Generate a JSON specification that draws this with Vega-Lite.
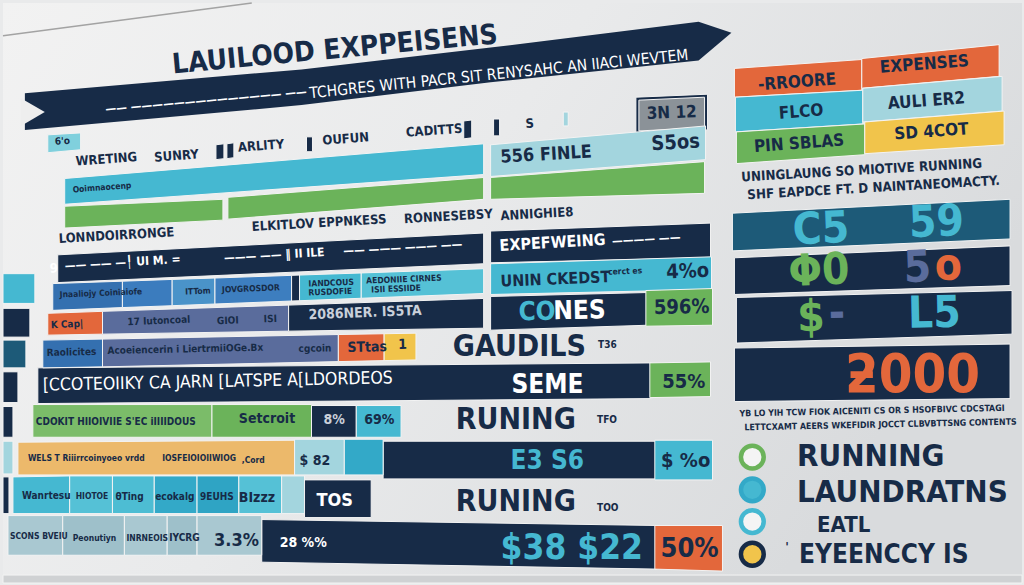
{
 "$schema": "https://vega.github.io/schema/vega-lite/v6.json",
 "width": 1024, "height": 585,
 "autosize": {"type": "fit", "contains": "padding"},
 "padding": 0,
 "background": "#e9eaeb",
 "config": {"view": {"stroke": null}},
 "datasets": {
  "banner": [
   {"x": 22, "y": 91, "y2": 128}, {"x": 300, "y": 67, "y2": 103}, {"x": 490, "y": 45, "y2": 80}, {"x": 699, "y": 19, "y2": 58}, {"x": 732, "y": 30, "y2": 30}
  ],
  "notch": [{"x": 18, "y": 96, "y2": 124}, {"x": 42, "y": 110, "y2": 110}],
  "paper": [{"x": 0, "y": 33}, {"x": 250, "y": 0}],
  "quads": [
   {"q":"t1","x":735,"y":66,"y2":95,"c":"orange"},{"q":"t1","x":863,"y":57,"y2":88,"c":"orange"},
   {"q":"t2","x":863,"y":56,"y2":86,"c":"orange"},{"q":"t2","x":1001,"y":42,"y2":74,"c":"orange"},
   {"q":"t3","x":736,"y":95,"y2":130,"c":"cyan"},{"q":"t3","x":864,"y":88,"y2":122,"c":"cyan"},
   {"q":"t4","x":864,"y":86,"y2":120,"c":"ltcyan"},{"q":"t4","x":1004,"y":74,"y2":109,"c":"ltcyan"},
   {"q":"t5","x":737,"y":130,"y2":162,"c":"green"},{"q":"t5","x":866,"y":122,"y2":153,"c":"green"},
   {"q":"t6","x":866,"y":120,"y2":152,"c":"yellow"},{"q":"t6","x":1006,"y":109,"y2":143,"c":"yellow"},
   {"q":"r1","x":733,"y":212,"y2":250,"c":"teal"},{"q":"r1","x":1012,"y":198,"y2":238,"c":"teal"},
   {"q":"r2","x":735,"y":257,"y2":294,"c":"navy"},{"q":"r2","x":1012,"y":245,"y2":285,"c":"navy"},
   {"q":"r3","x":737,"y":297,"y2":343,"c":"navy"},{"q":"r3","x":1014,"y":290,"y2":334,"c":"navy"},
   {"q":"r4","x":735,"y":348,"y2":402,"c":"navy"},{"q":"r4","x":1012,"y":344,"y2":399,"c":"navy"},
   {"q":"m0","x":636,"y":95,"y2":131,"c":"navy"},{"q":"m0","x":708,"y":92,"y2":128,"c":"navy"},
   {"q":"m1","x":639,"y":98,"y2":129,"c":"grey"},{"q":"m1","x":705,"y":95,"y2":126,"c":"grey"},
   {"q":"m2","x":490,"y":143,"y2":175,"c":"ltcyan"},{"q":"m2","x":706,"y":124,"y2":158,"c":"ltcyan"},
   {"q":"m3","x":490,"y":176,"y2":198,"c":"green"},{"q":"m3","x":705,"y":160,"y2":192,"c":"green"},
   {"q":"m4","x":490,"y":230,"y2":262,"c":"navy"},{"q":"m4","x":711,"y":222,"y2":257,"c":"navy"},
   {"q":"m5","x":490,"y":263,"y2":294,"c":"cyan"},{"q":"m5","x":712,"y":256,"y2":289,"c":"cyan"},
   {"q":"m6","x":490,"y":296,"y2":330,"c":"navy"},{"q":"m6","x":648,"y":292,"y2":325,"c":"navy"},
   {"q":"m7","x":646,"y":290,"y2":326,"c":"green"},{"q":"m7","x":713,"y":288,"y2":325,"c":"green"},
   {"q":"m8","x":35,"y":368,"y2":404,"c":"navy"},{"q":"m8","x":652,"y":363,"y2":399,"c":"navy"},
   {"q":"m9","x":650,"y":363,"y2":398,"c":"green"},{"q":"m9","x":711,"y":362,"y2":397,"c":"green"},
   {"q":"m10","x":382,"y":442,"y2":480,"c":"navy"},{"q":"m10","x":657,"y":442,"y2":480,"c":"navy"},
   {"q":"m11","x":655,"y":441,"y2":481,"c":"cyan"},{"q":"m11","x":713,"y":441,"y2":481,"c":"cyan"},
   {"q":"m12","x":260,"y":521,"y2":564,"c":"navy"},{"q":"m12","x":657,"y":527,"y2":571,"c":"navy"},
   {"q":"m13","x":655,"y":527,"y2":571,"c":"orange"},{"q":"m13","x":723,"y":527,"y2":573,"c":"orange"},
   {"q":"l1","x":62,"y":177,"y2":203,"c":"cyan"},{"q":"l1","x":483,"y":142,"y2":173,"c":"cyan"},
   {"q":"l2a","x":62,"y":205,"y2":227,"c":"green"},{"q":"l2a","x":221,"y":198,"y2":219,"c":"green"},
   {"q":"l2b","x":226,"y":196,"y2":218,"c":"green"},{"q":"l2b","x":483,"y":176,"y2":198,"c":"green"},
   {"q":"l3","x":55,"y":254,"y2":282,"c":"navy"},{"q":"l3","x":483,"y":232,"y2":263,"c":"navy"},
   {"q":"b1","x":214,"y":143,"y2":158,"c":"navy"},{"q":"b1","x":222,"y":142,"y2":157,"c":"navy"},
   {"q":"b2","x":225,"y":142,"y2":157,"c":"navy"},{"q":"b2","x":232,"y":141,"y2":156,"c":"navy"},
   {"q":"b3","x":305,"y":135,"y2":150,"c":"navy"},{"q":"b3","x":311,"y":135,"y2":150,"c":"navy"},
   {"q":"b4","x":463,"y":119,"y2":137,"c":"navy"},{"q":"b4","x":471,"y":118,"y2":136,"c":"navy"},
   {"q":"b5","x":493,"y":117,"y2":134,"c":"navy"},{"q":"b5","x":499,"y":117,"y2":134,"c":"navy"},
   {"q":"b6","x":563,"y":110,"y2":124,"c":"ltcyan"},{"q":"b6","x":568,"y":110,"y2":124,"c":"ltcyan"},
   {"q":"ic","x":45,"y":133,"y2":151,"c":"icon"},{"q":"ic","x":78,"y":131,"y2":148,"c":"icon"},
   {"q":"l4a","x":50,"y":283,"y2":310,"c":"steel"},{"q":"l4a","x":120,"y":280.6,"y2":307.2,"c":"steel"},
   {"q":"l4b","x":120,"y":280.6,"y2":307.2,"c":"blue2"},{"q":"l4b","x":170,"y":278.8,"y2":305.3,"c":"blue2"},
   {"q":"l4c","x":170,"y":278.8,"y2":305.3,"c":"blue3"},{"q":"l4c","x":213,"y":277.4,"y2":303.6,"c":"blue3"},
   {"q":"l4d","x":213,"y":277.4,"y2":303.6,"c":"steel2"},{"q":"l4d","x":290,"y":274.7,"y2":300.6,"c":"steel2"},
   {"q":"l4e","x":290,"y":274.7,"y2":300.6,"c":"navy"},{"q":"l4e","x":298,"y":274.4,"y2":300.3,"c":"navy"},
   {"q":"l4f","x":298,"y":274.4,"y2":300.3,"c":"cyan"},{"q":"l4f","x":360,"y":272.3,"y2":297.8,"c":"cyan"},
   {"q":"l4g","x":360,"y":272.3,"y2":297.8,"c":"cyan2"},{"q":"l4g","x":483,"y":268,"y2":293,"c":"cyan2"},
   {"q":"l5a","x":45,"y":313,"y2":335,"c":"orange"},{"q":"l5a","x":100,"y":311,"y2":334,"c":"orange"},
   {"q":"l5b","x":100,"y":311,"y2":334,"c":"greyblue"},{"q":"l5b","x":287,"y":304.7,"y2":331,"c":"greyblue"},
   {"q":"l5c","x":287,"y":304.7,"y2":331,"c":"navy"},{"q":"l5c","x":483,"y":298,"y2":328,"c":"navy"},
   {"q":"l6a","x":40,"y":340,"y2":368,"c":"steel"},{"q":"l6a","x":100,"y":339,"y2":367,"c":"steel"},
   {"q":"l6b","x":100,"y":339,"y2":367,"c":"greyblue"},{"q":"l6b","x":337,"y":334.4,"y2":361.7,"c":"greyblue"},
   {"q":"l6c","x":337,"y":334.4,"y2":361.7,"c":"orange"},{"q":"l6c","x":383,"y":333.6,"y2":360.7,"c":"orange"},
   {"q":"l6d","x":383,"y":333.6,"y2":360.7,"c":"yellow"},{"q":"l6d","x":415,"y":333,"y2":360,"c":"yellow"},
   {"q":"l8a","x":30,"y":405,"y2":438,"c":"green2"},{"q":"l8a","x":210,"y":405,"y2":438,"c":"green2"},
   {"q":"l8b","x":210,"y":405,"y2":438,"c":"green"},{"q":"l8b","x":310,"y":405,"y2":438,"c":"green"},
   {"q":"l8c","x":310,"y":406,"y2":438,"c":"navy"},{"q":"l8c","x":355,"y":406,"y2":438,"c":"navy"},
   {"q":"l8d","x":355,"y":406,"y2":438,"c":"cyan"},{"q":"l8d","x":400,"y":406,"y2":438,"c":"cyan"},
   {"q":"l9a","x":15,"y":443,"y2":476,"c":"tan"},{"q":"l9a","x":293,"y":441,"y2":476,"c":"tan"},
   {"q":"l9b","x":293,"y":440,"y2":476,"c":"ltcyan"},{"q":"l9b","x":343,"y":440,"y2":476,"c":"ltcyan"},
   {"q":"l9c","x":343,"y":440,"y2":476,"c":"cyan3"},{"q":"l9c","x":382,"y":440,"y2":476,"c":"cyan3"},
   {"q":"l10a","x":10,"y":478,"y2":515,"c":"cyan"},{"q":"l10a","x":67,"y":477,"y2":515,"c":"cyan"},
   {"q":"l10b","x":67,"y":477,"y2":515,"c":"cyan2"},{"q":"l10b","x":110,"y":477,"y2":515,"c":"cyan2"},
   {"q":"l10c","x":110,"y":477,"y2":515,"c":"cyan4"},{"q":"l10c","x":152,"y":477,"y2":515,"c":"cyan4"},
   {"q":"l10d","x":152,"y":477,"y2":515,"c":"cyan3"},{"q":"l10d","x":195,"y":477,"y2":515,"c":"cyan3"},
   {"q":"l10e","x":195,"y":477,"y2":515,"c":"cyan5"},{"q":"l10e","x":237,"y":477,"y2":515,"c":"cyan5"},
   {"q":"l10f","x":237,"y":477,"y2":515,"c":"cyan2"},{"q":"l10f","x":280,"y":477,"y2":515,"c":"cyan2"},
   {"q":"l10g","x":280,"y":477,"y2":515,"c":"ltcyan"},{"q":"l10g","x":303,"y":477,"y2":515,"c":"ltcyan"},
   {"q":"l10h","x":303,"y":481,"y2":519,"c":"navy"},{"q":"l10h","x":370,"y":481,"y2":519,"c":"navy"},
   {"q":"l11a","x":5,"y":517,"y2":557,"c":"ltteal"},{"q":"l11a","x":60,"y":517,"y2":557,"c":"ltteal"},
   {"q":"l11b","x":60,"y":517,"y2":557,"c":"ltteal2"},{"q":"l11b","x":122,"y":517,"y2":557,"c":"ltteal2"},
   {"q":"l11c","x":122,"y":517,"y2":557,"c":"ltteal"},{"q":"l11c","x":165,"y":517,"y2":557,"c":"ltteal"},
   {"q":"l11d","x":165,"y":517,"y2":557,"c":"ltteal2"},{"q":"l11d","x":195,"y":517,"y2":557,"c":"ltteal2"},
   {"q":"l11e","x":195,"y":517,"y2":557,"c":"ltteal"},{"q":"l11e","x":260,"y":517,"y2":557,"c":"ltteal"},
   {"q":"g1","x":0,"y":273,"y2":303,"c":"cyan"},{"q":"g1","x":32,"y":273,"y2":303,"c":"cyan"},
   {"q":"g2","x":0,"y":308,"y2":337,"c":"navy"},{"q":"g2","x":27,"y":308,"y2":337,"c":"navy"},
   {"q":"g3","x":0,"y":340,"y2":368,"c":"teal"},{"q":"g3","x":23,"y":340,"y2":368,"c":"teal"},
   {"q":"g4","x":0,"y":372,"y2":403,"c":"navy"},{"q":"g4","x":15,"y":372,"y2":403,"c":"navy"},
   {"q":"g5","x":0,"y":407,"y2":438,"c":"navy"},{"q":"g5","x":10,"y":407,"y2":438,"c":"navy"},
   {"q":"g6","x":0,"y":442,"y2":475,"c":"ltcyan"},{"q":"g6","x":10,"y":442,"y2":475,"c":"ltcyan"},
   {"q":"g7","x":0,"y":478,"y2":515,"c":"navy"},{"q":"g7","x":6,"y":478,"y2":515,"c":"navy"},
   {"q":"fl","x":0,"y":577,"y2":585,"c":"floor"},{"q":"fl","x":1024,"y":577,"y2":585,"c":"floor"}
  ],
  "dots": [
   {"x": 753, "y": 458, "fi": "white", "st": "green"},
   {"x": 753, "y": 491, "fi": "cyan", "st": "cyan3"},
   {"x": 753, "y": 523, "fi": "white", "st": "cyan"},
   {"x": 753, "y": 556, "fi": "yellow", "st": "navy"}
  ],
  "texts": [
   {"x":170,"y":63,"t":"LAUILOOD EXPPEISENS","r":"title","c":"navy","k":"t55"},
   {"x":308,"y":91,"t":"TCHGRES WITH PACR SIT RENYSAHC AN IIACI WEVTEM","r":"sub","c":"white","k":"t6"},
   {"x":103,"y":107,"t":"——   ——————————————   ——","r":"dash","c":"white","k":"t5"},
   {"x":798,"y":80,"t":"-RROORE","r":"tbl","c":"navy","k":"t4","a":"c"},
   {"x":926,"y":62,"t":"EXPENSES","r":"tbl","c":"navy","k":"t4","a":"c"},
   {"x":802,"y":110,"t":"FLCO","r":"tbl","c":"navy","k":"t4","a":"c"},
   {"x":928,"y":99,"t":"AULI ER2","r":"tbl","c":"navy","k":"t4","a":"c"},
   {"x":800,"y":142,"t":"PIN SBLAS","r":"tbl","c":"navy","k":"t4","a":"c"},
   {"x":933,"y":130,"t":"SD 4COT","r":"tbl","c":"navy","k":"t4","a":"c"},
   {"x":742,"y":176,"t":"UNINGLAUNG SO MIOTIVE RUNNING","r":"expl","c":"navy","k":"t3"},
   {"x":748,"y":194,"t":"SHF EAPDCE FT. D NAINTANEOMACTY.","r":"expl","c":"navy","k":"t3"},
   {"x":822,"y":229,"t":"C5","r":"num","c":"cyan","k":"t2","a":"c"},
   {"x":938,"y":222,"t":"59","r":"num","c":"cyan","k":"t2","a":"c"},
   {"x":820,"y":271,"t":"Φ0","r":"num","c":"green","k":"t2","a":"c"},
   {"x":919,"y":268,"t":"5","r":"num","c":"greyblue","k":"t2","a":"c"},
   {"x":950,"y":266,"t":"o","r":"num","c":"orange","k":"t2","a":"c"},
   {"x":812,"y":318,"t":"$","r":"num","c":"green","k":"t1","a":"c"},
   {"x":838,"y":314,"t":"-","r":"num","c":"greyblue","k":"t1","a":"c"},
   {"x":936,"y":314,"t":"L5","r":"num","c":"cyan","k":"t1","a":"c"},
   {"x":914,"y":376,"t":"ƻ000","r":"huge","c":"orange","k":"t0","a":"c"},
   {"x":740,"y":414,"t":"YB LO YIH TCW FIOK AICENITI CS OR S HSOFBIVC CDCSTAGI","r":"note","c":"navy","k":"t1"},
   {"x":745,"y":428,"t":"LETTCXAMT AEERS WKEFIDIR JOCCT CLBVBTTSNG CONTENTS","r":"note","c":"navy","k":"t1"},
   {"x":798,"y":458,"t":"RUNNING","r":"leg","c":"navy","k":"t0"},
   {"x":798,"y":494,"t":"LAUNDRATNS","r":"leg","c":"navy","k":"t0"},
   {"x":818,"y":527,"t":"EATL","r":"leg2","c":"navy","k":"t0"},
   {"x":786,"y":549,"t":"'","r":"lab","c":"navy","k":"t0"},
   {"x":800,"y":557,"t":"EYEENCCY IS","r":"leg3","c":"navy","k":"t0"},
   {"x":672,"y":111,"t":"3N 12","r":"tbl","c":"navy","k":"t2","a":"c"},
   {"x":525,"y":122,"t":"S","r":"lab","c":"navy","k":"t3"},
   {"x":500,"y":156,"t":"556 FINLE","r":"lab3","c":"navy","k":"t3"},
   {"x":676,"y":141,"t":"S5os","r":"cell","c":"navy","k":"t3","a":"c"},
   {"x":500,"y":215,"t":"ANNIGHIE8","r":"lab","c":"navy","k":"t3"},
   {"x":499,"y":245,"t":"EXPEFWEING","r":"lab2","c":"white","k":"t3"},
   {"x":612,"y":240,"t":"————  ——","r":"dash","c":"white","k":"t3"},
   {"x":500,"y":281,"t":"UNIN CKEDST","r":"lab2","c":"navy","k":"t2"},
   {"x":608,"y":271,"t":"cerct es","r":"tiny","c":"navy","k":"t2"},
   {"x":688,"y":271,"t":"4%o","r":"cell","c":"navy","k":"t2","a":"c"},
   {"x":518,"y":312,"t":"CO","r":"head","c":"cyan","k":"t1"},
   {"x":553,"y":311,"t":"NES","r":"head","c":"white","k":"t1"},
   {"x":682,"y":307,"t":"596%","r":"cell","c":"navy","k":"t1","a":"c"},
   {"x":452,"y":347,"t":"GAUDILS","r":"big","c":"navy","k":"t0"},
   {"x":598,"y":345,"t":"T36","r":"small","c":"navy","k":"t0"},
   {"x":511,"y":385,"t":"SEME","r":"head","c":"white","k":"t0"},
   {"x":684,"y":382,"t":"55%","r":"cell","c":"navy","k":"t0","a":"c"},
   {"x":455,"y":421,"t":"RUNING","r":"big","c":"navy","k":"t0"},
   {"x":597,"y":421,"t":"TFO","r":"small","c":"navy","k":"t0"},
   {"x":510,"y":462,"t":"E3 S6","r":"head","c":"cyan","k":"t0"},
   {"x":686,"y":462,"t":"$ %o","r":"cell","c":"navy","k":"t0","a":"c"},
   {"x":455,"y":503,"t":"RUNING","r":"big","c":"navy","k":"t0"},
   {"x":597,"y":509,"t":"TOO","r":"small","c":"navy","k":"t0"},
   {"x":500,"y":550,"t":"$38 $22","r":"money","c":"cyan","k":"t0"},
   {"x":690,"y":551,"t":"50%","r":"bigcell","c":"navy","k":"t0","a":"c"},
   {"x":278,"y":545,"t":"28 %%","r":"mid","c":"white","k":"t0"},
   {"x":52,"y":140,"t":"6'o","r":"small","c":"navy","k":"t3"},
   {"x":73,"y":160,"t":"WRETING","r":"lab","c":"navy","k":"t4"},
   {"x":152,"y":156,"t":"SUNRY","r":"lab","c":"navy","k":"t4"},
   {"x":236,"y":146,"t":"ARLITY","r":"lab","c":"navy","k":"t4"},
   {"x":321,"y":139,"t":"OUFUN","r":"lab","c":"navy","k":"t4"},
   {"x":405,"y":131,"t":"CADITTS","r":"lab","c":"navy","k":"t4"},
   {"x":70,"y":188,"t":"Ooimnaocenp","r":"tiny","c":"navy","k":"t4"},
   {"x":250,"y":226,"t":"ELKITLOV EPPNKESS","r":"lab","c":"navy","k":"t3"},
   {"x":403,"y":218,"t":"RONNESEBSY","r":"lab","c":"navy","k":"t3"},
   {"x":56,"y":238,"t":"LONNDOIRRONGE","r":"lab","c":"navy","k":"t3"},
   {"x":47,"y":268,"t":"9","r":"lab","c":"white","k":"t3"},
   {"x":62,"y":265,"t":"—— ——  —╿ UI M. =","r":"dash","c":"white","k":"t3"},
   {"x":222,"y":257,"t":"——— —— ‖ II ILE","r":"dash","c":"white","k":"t3"},
   {"x":342,"y":250,"t":"—— ———  ——— ——","r":"dash","c":"white","k":"t3"},
   {"x":57,"y":294,"t":"Jnaaliojy Coiniaiofe","r":"tiny","c":"navy","k":"t2"},
   {"x":183,"y":291,"t":"ITTom","r":"tiny","c":"navy","k":"t2"},
   {"x":220,"y":289,"t":"JOVGROSDOR","r":"tiny","c":"navy","k":"t2"},
   {"x":307,"y":283,"t":"IANDCOUS","r":"tiny","c":"navy","k":"t2"},
   {"x":307,"y":292,"t":"RUSDOFIE","r":"tiny","c":"navy","k":"t2"},
   {"x":365,"y":280,"t":"AEDONIIE CIRNES","r":"tiny","c":"navy","k":"t2"},
   {"x":370,"y":289,"t":"ISII ESSIIDE","r":"tiny","c":"navy","k":"t2"},
   {"x":48,"y":325,"t":"K Cap|","r":"small","c":"navy","k":"t2"},
   {"x":125,"y":322,"t":"17 Iutoncoal","r":"small","c":"navy","k":"t2"},
   {"x":215,"y":321,"t":"GIOI","r":"small","c":"navy","k":"t2"},
   {"x":262,"y":319,"t":"ISI","r":"small","c":"navy","k":"t2"},
   {"x":307,"y":315,"t":"2086NER. IS5TA","r":"mid","c":"ltgrey","k":"t2"},
   {"x":44,"y":353,"t":"Raolicites","r":"small","c":"navy","k":"t1"},
   {"x":105,"y":351,"t":"Acoeiencerin i LiertrmiiOGe.Bx","r":"small","c":"navy","k":"t1"},
   {"x":297,"y":349,"t":"cgcoin","r":"small","c":"navy","k":"t1"},
   {"x":346,"y":348,"t":"STtas","r":"mid","c":"navy","k":"t1"},
   {"x":397,"y":345,"t":"1","r":"mid","c":"navy","k":"t1"},
   {"x":40,"y":386,"t":"[CCOTEOIIKY CA JARN [LATSPE A[LDORDEOS","r":"row","c":"white","k":"t1"},
   {"x":33,"y":423,"t":"CDOKIT HIIOIVIIE S'EC iIIIIDOUS","r":"small","c":"navy","k":"t0"},
   {"x":237,"y":420,"t":"Setcroit","r":"mid","c":"navy","k":"t0"},
   {"x":322,"y":421,"t":"8%","r":"mid","c":"ltgrey","k":"t0"},
   {"x":363,"y":421,"t":"69%","r":"mid","c":"navy","k":"t0"},
   {"x":25,"y":459,"t":"WELS T Riiirrcoinyoeo vrdd","r":"tiny","c":"navy","k":"t0"},
   {"x":160,"y":459,"t":"IOSFEIOIOIIWIOG","r":"tiny","c":"navy","k":"t0"},
   {"x":240,"y":461,"t":",Cord","r":"tiny","c":"navy","k":"t0"},
   {"x":298,"y":462,"t":"$ 82","r":"mid","c":"navy","k":"t0"},
   {"x":19,"y":497,"t":"Wanrtesu","r":"small","c":"navy","k":"t0"},
   {"x":73,"y":497,"t":"HIOTOE","r":"tiny","c":"navy","k":"t0"},
   {"x":113,"y":498,"t":"θTing","r":"small","c":"navy","k":"t0"},
   {"x":153,"y":498,"t":"ecokalg","r":"small","c":"navy","k":"t0"},
   {"x":198,"y":498,"t":"9EUHS","r":"small","c":"navy","k":"t0"},
   {"x":237,"y":499,"t":"BIzzz","r":"mid","c":"navy","k":"t0"},
   {"x":315,"y":502,"t":"TOS","r":"lab3","c":"white","k":"t0"},
   {"x":7,"y":538,"t":"SCONS BVEIU","r":"tiny","c":"navy","k":"t0"},
   {"x":70,"y":540,"t":"Peonutiyn","r":"tiny","c":"navy","k":"t0"},
   {"x":124,"y":540,"t":"INRNEOIS","r":"tiny","c":"navy","k":"t0"},
   {"x":167,"y":540,"t":"IYCRG","r":"small","c":"navy","k":"t0"},
   {"x":212,"y":543,"t":"3.3%","r":"lab3","c":"navy","k":"t0"}
  ]
 },
 "layer": [
  {
   "data": {"values": [{"x": 0, "x2": 1024, "y": 0, "y2": 585}]},
   "mark": {"type": "rect", "color": {"gradient": "linear", "x1": 0, "y1": 0, "x2": 1, "y2": 0.4, "stops": [{"offset": 0, "color": "#f2f2f2"}, {"offset": 0.5, "color": "#e9eaeb"}, {"offset": 1, "color": "#d9dbdd"}]}},
   "encoding": {
    "x": {"field": "x", "type": "quantitative", "scale": {"domain": [0, 1024], "nice": false, "zero": false}, "axis": null},
    "x2": {"field": "x2"},
    "y": {"field": "y", "type": "quantitative", "scale": {"domain": [0, 585], "nice": false, "zero": false, "reverse": true}, "axis": null},
    "y2": {"field": "y2"}
   }
  },
  {
   "data": {"name": "paper"},
   "mark": {"type": "line", "color": "#a3a3a3", "strokeWidth": 1.5},
   "encoding": {
    "x": {"field": "x", "type": "quantitative", "axis": null},
    "y": {"field": "y", "type": "quantitative", "axis": null}
   }
  },
  {
   "data": {"name": "banner"},
   "mark": {"type": "area", "color": "#172b47", "interpolate": "linear"},
   "encoding": {
    "x": {"field": "x", "type": "quantitative", "axis": null},
    "y": {"field": "y", "type": "quantitative", "axis": null},
    "y2": {"field": "y2"}
   }
  },
  {
   "data": {"name": "notch"},
   "mark": {"type": "area", "color": "#eeeeee", "interpolate": "linear"},
   "encoding": {
    "x": {"field": "x", "type": "quantitative", "axis": null},
    "y": {"field": "y", "type": "quantitative", "axis": null},
    "y2": {"field": "y2"}
   }
  },
  {
   "data": {"name": "quads"},
   "mark": {"type": "area", "stroke": "#f3f3f3", "strokeWidth": 1, "interpolate": "linear", "opacity": 1},
   "encoding": {
    "x": {"field": "x", "type": "quantitative", "axis": null},
    "y": {"field": "y", "type": "quantitative", "axis": null},
    "y2": {"field": "y2"},
    "detail": {"field": "q", "type": "nominal"},
    "color": {"field": "c", "type": "nominal", "legend": null,
     "scale": {"domain": ["navy","teal","cyan","cyan2","cyan3","cyan4","cyan5","ltcyan","ltteal","ltteal2","green","green2","orange","yellow","tan","steel","steel2","blue2","blue3","greyblue","grey","icon","floor","white","ltgrey","bg"],
      "range": ["#172b47","#1d5a78","#45b8d1","#55c1d6","#33a9c8","#4dbdd3","#2fa4c4","#a3d5de","#a9c8d1","#9ec0ca","#6bb35a","#7bbc69","#e3673b","#f1c44b","#ecb96b","#3470b0","#3d7ebf","#3b7cbe","#4a93c9","#5a6c9c","#8b9298","#80d0dd","#cfd1d3","#ffffff","#c9d0da","#e9eaeb"]}}
   }
  },
  {
   "data": {"name": "dots"},
   "mark": {"type": "point", "size": 520, "strokeWidth": 4.5, "opacity": 1, "fillOpacity": 1, "shape": "circle"},
   "encoding": {
    "x": {"field": "x", "type": "quantitative", "axis": null},
    "y": {"field": "y", "type": "quantitative", "axis": null},
    "fill": {"field": "fi", "type": "nominal", "legend": null,
     "scale": {"domain": ["navy","cyan","cyan3","green","yellow","white"], "range": ["#172b47","#45b8d1","#33a9c8","#6bb35a","#f1c44b","#f4f4f4"]}},
    "stroke": {"field": "st", "type": "nominal", "legend": null,
     "scale": {"domain": ["navy","cyan","cyan3","green","yellow","white"], "range": ["#172b47","#45b8d1","#33a9c8","#6bb35a","#f1c44b","#f4f4f4"]}}
   }
  },
  {
   "data": {"name": "texts"},
   "transform": [{"filter": "datum.a !== 'c' && datum.r !== 'sub' && datum.r !== 'row'"}],
   "mark": {"type": "text", "font": "DejaVu Sans Condensed, Liberation Sans Narrow, Roboto, sans-serif", "fontWeight": "bold", "align": "left", "baseline": "middle"},
   "encoding": {
    "x": {"field": "x", "type": "quantitative", "axis": null},
    "y": {"field": "y", "type": "quantitative", "axis": null},
    "text": {"field": "t"},
    "color": {"field": "c", "type": "nominal", "legend": null,
     "scale": {"domain": ["navy","teal","cyan","cyan2","cyan3","cyan4","cyan5","ltcyan","ltteal","ltteal2","green","green2","orange","yellow","tan","steel","steel2","blue2","blue3","greyblue","grey","icon","floor","white","ltgrey","bg"],
      "range": ["#172b47","#1d5a78","#45b8d1","#55c1d6","#33a9c8","#4dbdd3","#2fa4c4","#a3d5de","#a9c8d1","#9ec0ca","#6bb35a","#7bbc69","#e3673b","#f1c44b","#ecb96b","#3470b0","#3d7ebf","#3b7cbe","#4a93c9","#5a6c9c","#8b9298","#80d0dd","#cfd1d3","#ffffff","#c9d0da","#e9eaeb"]}},
    "size": {"field": "r", "type": "nominal", "legend": null,
     "scale": {"type": "ordinal", "domain": ["title","sub","tbl","lab","lab2","lab3","expl","tiny","small","mid","row","cell","bigcell","head","big","num","huge","leg","leg2","leg3","money","note","dash"],
      "range": [28,15.5,17,13,16,18,13.3,8.5,10,14,17.5,20,27,26,30,44,54,31,22,26,35,8.8,12]}},
    "angle": {"field": "k", "type": "nominal", "legend": null,
     "scale": {"type": "ordinal", "domain": ["t6","t55","t5","t4","t3","t2","t1","t0"], "range": [-5.8,-5.3,-5,-4.2,-3.3,-2.3,-1.2,0]}}
   }
  },
  {
   "data": {"name": "texts"},
   "transform": [{"filter": "datum.a === 'c'"}],
   "mark": {"type": "text", "font": "DejaVu Sans Condensed, Liberation Sans Narrow, Roboto, sans-serif", "fontWeight": "bold", "align": "center", "baseline": "middle"},
   "encoding": {
    "x": {"field": "x", "type": "quantitative", "axis": null},
    "y": {"field": "y", "type": "quantitative", "axis": null},
    "text": {"field": "t"},
    "color": {"field": "c", "type": "nominal", "legend": null,
     "scale": {"domain": ["navy","teal","cyan","cyan2","cyan3","cyan4","cyan5","ltcyan","ltteal","ltteal2","green","green2","orange","yellow","tan","steel","steel2","blue2","blue3","greyblue","grey","icon","floor","white","ltgrey","bg"],
      "range": ["#172b47","#1d5a78","#45b8d1","#55c1d6","#33a9c8","#4dbdd3","#2fa4c4","#a3d5de","#a9c8d1","#9ec0ca","#6bb35a","#7bbc69","#e3673b","#f1c44b","#ecb96b","#3470b0","#3d7ebf","#3b7cbe","#4a93c9","#5a6c9c","#8b9298","#80d0dd","#cfd1d3","#ffffff","#c9d0da","#e9eaeb"]}},
    "size": {"field": "r", "type": "nominal", "legend": null,
     "scale": {"type": "ordinal", "domain": ["title","sub","tbl","lab","lab2","lab3","expl","tiny","small","mid","row","cell","bigcell","head","big","num","huge","leg","leg2","leg3","money","note","dash"],
      "range": [28,15.5,17,13,16,18,13.3,8.5,10,14,17.5,20,27,26,30,44,54,31,22,26,35,8.8,12]}},
    "angle": {"field": "k", "type": "nominal", "legend": null,
     "scale": {"type": "ordinal", "domain": ["t6","t55","t5","t4","t3","t2","t1","t0"], "range": [-5.8,-5.3,-5,-4.2,-3.3,-2.3,-1.2,0]}}
   }
  },
  {
   "data": {"name": "texts"},
   "transform": [{"filter": "datum.r === 'sub' || datum.r === 'row'"}],
   "mark": {"type": "text", "font": "DejaVu Sans Condensed, Liberation Sans Narrow, Roboto, sans-serif", "fontWeight": "normal", "align": "left", "baseline": "middle"},
   "encoding": {
    "x": {"field": "x", "type": "quantitative", "axis": null},
    "y": {"field": "y", "type": "quantitative", "axis": null},
    "text": {"field": "t"},
    "color": {"field": "c", "type": "nominal", "legend": null,
     "scale": {"domain": ["navy","teal","cyan","cyan2","cyan3","cyan4","cyan5","ltcyan","ltteal","ltteal2","green","green2","orange","yellow","tan","steel","steel2","blue2","blue3","greyblue","grey","icon","floor","white","ltgrey","bg"],
      "range": ["#172b47","#1d5a78","#45b8d1","#55c1d6","#33a9c8","#4dbdd3","#2fa4c4","#a3d5de","#a9c8d1","#9ec0ca","#6bb35a","#7bbc69","#e3673b","#f1c44b","#ecb96b","#3470b0","#3d7ebf","#3b7cbe","#4a93c9","#5a6c9c","#8b9298","#80d0dd","#cfd1d3","#ffffff","#c9d0da","#e9eaeb"]}},
    "size": {"field": "r", "type": "nominal", "legend": null,
     "scale": {"type": "ordinal", "domain": ["title","sub","tbl","lab","lab2","lab3","expl","tiny","small","mid","row","cell","bigcell","head","big","num","huge","leg","leg2","leg3","money","note","dash"],
      "range": [28,15.5,17,13,16,18,13.3,8.5,10,14,17.5,20,27,26,30,44,54,31,22,26,35,8.8,12]}},
    "angle": {"field": "k", "type": "nominal", "legend": null,
     "scale": {"type": "ordinal", "domain": ["t6","t55","t5","t4","t3","t2","t1","t0"], "range": [-5.8,-5.3,-5,-4.2,-3.3,-2.3,-1.2,0]}}
   }
  }
 ]
}
